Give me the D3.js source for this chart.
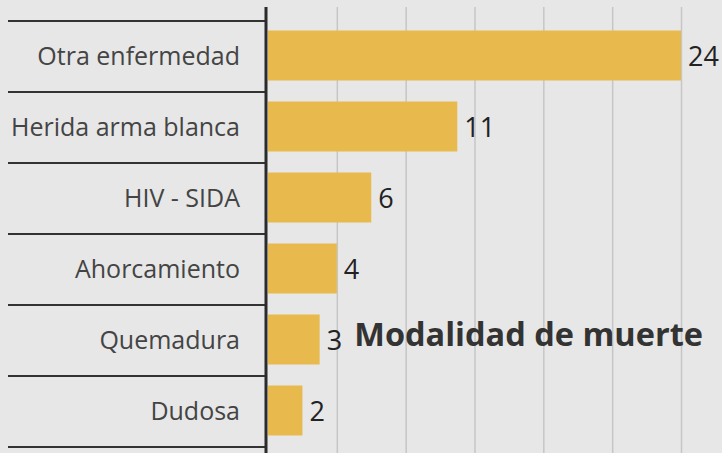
<!DOCTYPE html>
<html>
<head>
<meta charset="utf-8">
<script src="https://cdn.jsdelivr.net/npm/d3@7"></script>
<style>
  body { margin: 0; background: #e7e7e7; }
  svg { display: block; }
</style>
</head>
<body>
<svg id="drawing_region"></svg>
<script>
const categories = ["Otra enfermedad", "Herida arma blanca", "HIV - SIDA", "Ahorcamiento", "Quemadura", "Dudosa"];
const values = [24, 11, 6, 4, 3, 2];
const gridTicks = [4, 8, 12, 16, 20, 24];
const title = "Modalidad de muerte";

const data = categories.map((c, i) => ({ label: c, value: values[i] }));

const width = 722, height = 453;
const axisX = 266;

const svg = d3.select("#drawing_region")
    .attr("width", width)
    .attr("height", height);

svg.append("rect")
    .attr("width", width)
    .attr("height", height)
    .attr("fill", "#e7e7e7");

const xscale = d3.scaleLinear().domain([0, 24]).range([268, 681]);
const yscale = d3.scaleBand().domain(categories).range([21, 447]);
const barH = 50;

// vertical gridlines
const grid = svg.append("g")
    .attr("transform", "translate(0,7)")
    .call(d3.axisBottom(xscale).tickValues(gridTicks).tickSize(height - 7).tickFormat(""));
grid.select(".domain").remove();
grid.selectAll("line").attr("stroke", "#c6c6c6").attr("stroke-width", 1.5);

// category separators
const seps = categories.map(c => yscale(c)).concat([yscale.range()[1]]);
svg.selectAll(".sep")
    .data(seps)
    .enter()
    .append("line")
    .attr("class", "sep")
    .attr("x1", 8)
    .attr("x2", axisX)
    .attr("y1", d => d)
    .attr("y2", d => d)
    .attr("stroke", "#333")
    .attr("stroke-width", 2);

// bars
svg.selectAll(".bar")
    .data(data)
    .enter()
    .append("rect")
    .attr("class", "bar")
    .attr("x", xscale(0))
    .attr("y", d => yscale(d.label) + (yscale.bandwidth() - barH) / 2 - 1)
    .attr("width", d => xscale(d.value) - xscale(0))
    .attr("height", barH)
    .attr("fill", "#e8b94c");

// value labels
svg.selectAll(".val")
    .data(data)
    .enter()
    .append("text")
    .attr("class", "val")
    .attr("x", d => xscale(d.value) + 7)
    .attr("y", d => yscale(d.label) + yscale.bandwidth() / 2)
    .attr("dy", "0.35em")
    .attr("font-family", "Open Sans, sans-serif")
    .attr("font-size", 27)
    .attr("fill", "#222")
    .text(d => d.value);

// category labels
const yaxis = svg.append("g")
    .attr("transform", `translate(${axisX},0)`)
    .call(d3.axisLeft(yscale).tickSize(0).tickPadding(26));
yaxis.select(".domain").remove();
yaxis.selectAll("text")
    .attr("font-family", "Open Sans, sans-serif")
    .attr("font-size", 25)
    .attr("fill", "#444");

// main axis line
svg.append("line")
    .attr("x1", axisX).attr("x2", axisX)
    .attr("y1", 7).attr("y2", height)
    .attr("stroke", "#2b2b2b")
    .attr("stroke-width", 3);

// title
svg.append("text")
    .attr("x", 703)
    .attr("y", 346)
    .attr("text-anchor", "end")
    .attr("font-family", "Open Sans, sans-serif")
    .attr("font-weight", "bold")
    .attr("font-size", 32.5)
    .attr("fill", "#333")
    .text(title);
</script>
</body>
</html>
